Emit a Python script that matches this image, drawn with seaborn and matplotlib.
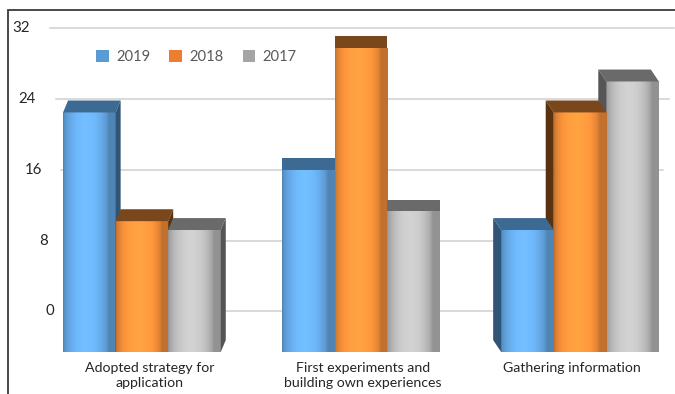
import numpy as np
import pandas as pd
import seaborn as sns
import matplotlib.pyplot as plt
import matplotlib.transforms as mtransforms
from matplotlib.patches import Polygon, Rectangle

categories = ["Adopted strategy for\napplication",
              "First experiments and\nbuilding own experiences",
              "Gathering information"]
years = ["2019", "2018", "2017"]
v2019 = [22.5, 16, 9.2]
v2018 = [10.2, 29.8, 22.5]
v2017 = [9.2, 11.3, 26]
yticks = [0, 8, 16, 24, 32]

rows = []
for yr, vals in zip(years, [v2019, v2018, v2017]):
    for c, v in zip(categories, vals):
        rows.append({"category": c, "year": yr, "value": v})
df = pd.DataFrame(rows)

legend_colors = {"2019": "#5b9bd5", "2018": "#ed7d31", "2017": "#a5a5a5"}
front_colors = {"2019": "#66aae8", "2018": "#f8913a", "2017": "#bcbcbc"}
top_colors = {"2019": "#3d6a92", "2018": "#7a461c", "2017": "#6a6a6a"}
side_colors = {"2019": "#2f5577", "2018": "#5a3210", "2017": "#555555"}

sns.set_theme(style="white")
plt.rcParams['font.family'] = ['Lato', 'DejaVu Sans']

W, H = 675, 394
fig = plt.figure(figsize=(W / 100, H / 100), dpi=100)
ax_bottom_px, ax_top_px = 352, 19.6
ax = fig.add_axes([60 / W, (H - ax_bottom_px) / H, 605 / W, (ax_bottom_px - ax_top_px) / H])

sns.barplot(data=df, x="category", y="value", hue="year", hue_order=years,
            palette=front_colors, width=0.72, saturation=1, ax=ax,
            legend=False, edgecolor="none")

ymin, ymax = -4.6, 33
ax.set_xlim(-0.374, 2.388)
ax.set_ylim(ymin, ymax)
for s in ax.spines.values():
    s.set_visible(False)
ax.set_xlabel("")
ax.set_ylabel("")
ax.set_yticks([])
ax.tick_params(axis="x", length=0, pad=7)
ax.set_xticks(range(len(categories)))
labels = ax.set_xticklabels(categories, fontsize=10.2, color="#262626", linespacing=1.35)
label_shift_px = [8, 2, -8]
for lab, dxp in zip(labels, label_shift_px):
    lab.set_transform(lab.get_transform() +
                      mtransforms.ScaledTranslation(dxp / 100, 0, fig.dpi_scale_trans))

# gridlines and y tick labels (slanted by perspective)
blend = mtransforms.blended_transform_factory(fig.transFigure, ax.transData)
for v in yticks:
    x_start = (50 + (32 - v) / 32 * 22) / W
    x_end = (652 + v / 32 * 22) / W
    ax.plot([x_start, x_end], [v, v], transform=blend, color="#d9d9d9",
            lw=1.4, zorder=0, clip_on=False)
    x_lab = (30 + (32 - v) / 32 * 24) / W
    ax.text(x_lab, v, str(v), transform=blend, ha="right", va="center",
            fontsize=10.8, color="#262626")

# 3D look
px_per_unit_x = 605 / (2.388 + 0.374)
shifts_px = [5, 0, -8]
depth = 1.35
grad = np.linspace(0, 1, 64)
shade = 0.78 + 0.34 * np.sin(np.pi * np.clip(grad * 1.15, 0, 1)) ** 0.6
for hi, (cont, yr) in enumerate(zip(ax.containers, years)):
    base_rgb = np.array(plt.matplotlib.colors.to_rgb(front_colors[yr]))
    img = np.clip(base_rgb[None, None, :] * shade[None, :, None], 0, 1)
    for j, bar in enumerate(cont):
        x0 = bar.get_x()
        w = bar.get_width()
        h = bar.get_height()
        dx = shifts_px[j] / px_per_unit_x
        if j == 2:
            z = 6 - hi
        else:
            z = 2 + hi
        bar.set_y(ymin)
        bar.set_height(h - ymin)
        bar.set_zorder(z)
        im = ax.imshow(img, extent=(x0, x0 + w, ymin, h), aspect="auto",
                       zorder=z + 0.1, interpolation="bilinear")
        im.set_clip_path(bar)
        top = Polygon([(x0, h), (x0 + w, h), (x0 + w + dx, h + depth),
                       (x0 + dx, h + depth)], closed=True,
                      facecolor=top_colors[yr], edgecolor="none", zorder=z + 0.2)
        ax.add_patch(top)
        if dx > 0:
            side = Polygon([(x0 + w, ymin), (x0 + w, h), (x0 + w + dx, h + depth),
                            (x0 + w + dx, ymin + depth)], closed=True,
                           facecolor=side_colors[yr], edgecolor="none", zorder=z + 0.2)
            ax.add_patch(side)
        elif dx < 0:
            side = Polygon([(x0, ymin), (x0, h), (x0 + dx, h + depth),
                            (x0 + dx, ymin + depth)], closed=True,
                           facecolor=side_colors[yr], edgecolor="none", zorder=z + 0.2)
            ax.add_patch(side)

ax.set_xlim(-0.374, 2.388)
ax.set_ylim(ymin, ymax)

# legend
handles = [Rectangle((0, 0), 1, 1, facecolor=legend_colors[y], edgecolor="none") for y in years]
leg = fig.legend(handles, years, ncol=3, loc="center left",
                 bbox_to_anchor=(83 / W, 1 - 57 / H), frameon=False,
                 handlelength=0.85, handleheight=0.85, columnspacing=1.3,
                 handletextpad=0.5, fontsize=10.6)
for t in leg.get_texts():
    t.set_color("#595959")

# outer frame
fig.add_artist(Rectangle((8 / W, -0.1), 1.2, 1 - 10 / H + 0.1,
                         transform=fig.transFigure, fill=False,
                         edgecolor="#3a3a3a", lw=1.3))

fig.savefig("out.png", dpi=100)
